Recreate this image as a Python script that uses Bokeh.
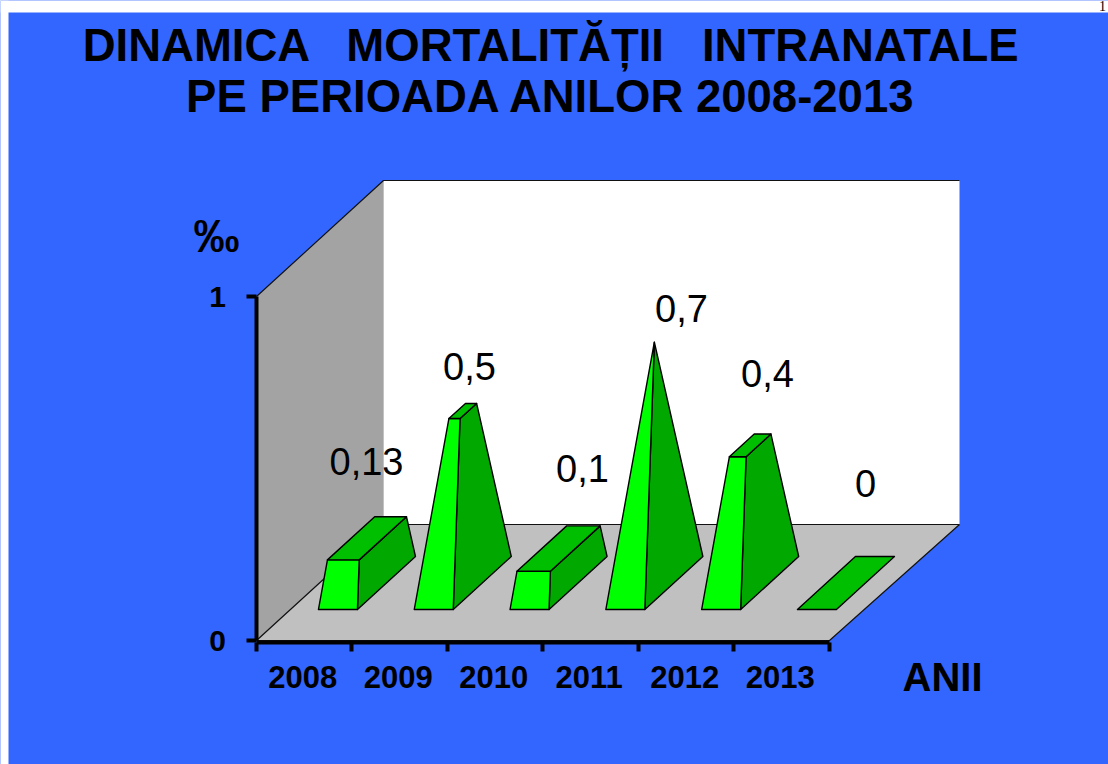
from bokeh.plotting import figure
from bokeh.embed import file_html
from bokeh.resources import INLINE
from bokeh.models import FixedTicker, LinearAxis, Range1d
from bokeh.core.properties import value

# ---- data ----
years = ["2008", "2009", "2010", "2011", "2012", "2013"]
rates = [0.13, 0.5, 0.1, 0.7, 0.4, 0.0]
rate_labels = ["0,13", "0,5", "0,1", "0,7", "0,4", "0"]
title_lines = ["DINAMICA \u00a0 MORTALITĂȚII \u00a0 INTRANATALE", "PE PERIOADA ANILOR 2008-2013"]

# ---- page layout ----
W, H = 1108, 764
PX_X, PX_Y = 95.5, 344.0          # pixels per category / per unit of value
X0, Y0 = 256.0, 640.0             # page pixel of the chart origin
DEPTH_X, DEPTH_Y = 127 / PX_X, 116 / PX_Y   # oblique offset of the back wall
BACK_EXTRA = 3 / PX_X                       # back wall is a little wider than the front axis
BAR_L, BAR_W = 28.0 / PX_X, 39.0 / PX_X     # bar start and width along the axis
BAR_STEP = 95.8 / PX_X                      # bar spacing
BAR_ZF, BAR_ZB = 31.0 / 116, 84.0 / 116     # bar depth extent (fraction of depth)
LABEL_SHIFT = -1.5 / PX_X                   # year labels sit slightly left of the slot centre
APEX = max(rates)

def ux(px):
    return (px - X0) / PX_X

def uy(py):
    return (Y0 - py) / PX_Y

def proj(x, z, v):
    return x + z * DEPTH_X, v + z * DEPTH_Y

p = figure(width=W, height=H, output_backend="svg", toolbar_location=None,
           x_range=Range1d(ux(0), ux(W)), y_range=Range1d(uy(H), uy(0)),
           min_border=0, x_axis_location=None, y_axis_location=None)
p.grid.visible = False
p.outline_line_color = None
p.background_fill_color = "#3366FF"
p.border_fill_color = "#3366FF"

# white page margin around the slide
p.quad(left=[ux(0), ux(0)], right=[ux(W), ux(8)], top=[uy(0), uy(0)], bottom=[uy(12), uy(H)],
       fill_color="white", line_color=None)

# walls and floor
n = len(years)
thin = dict(line_color="#111111", line_width=1.2)
p.patch(*zip(*[proj(0, 0, 0), proj(0, 1, 0), proj(0, 1, 1), proj(0, 0, 1)]), fill_color="#A3A3A3", line_color=None)
p.patch(*zip(*[proj(0, 1, 0), proj(n + BACK_EXTRA, 1, 0), proj(n + BACK_EXTRA, 1, 1), proj(0, 1, 1)]),
        fill_color="white", line_color=None)
p.line(*zip(proj(0, 0, 1), proj(0, 1, 1), proj(n + BACK_EXTRA, 1, 1)), **thin)
p.patch(*zip(*[proj(0, 0, 0), proj(n, 0, 0), proj(n + BACK_EXTRA, 1, 0), proj(0, 1, 0)]), fill_color="#C0C0C0", **thin)

# pyramids cut at their value
edge = dict(line_color="black", line_width=1.4, line_join="round")
for i, v in enumerate(rates):
    x1, x2 = i * BAR_STEP + BAR_L, i * BAR_STEP + BAR_L + BAR_W
    cx, cz = (x1 + x2) / 2, (BAR_ZF + BAR_ZB) / 2
    t = v / APEX

    def corner(x, z, level):
        return proj(x + (cx - x) * level, z + (cz - z) * level, APEX * level)

    fl0, fr0 = corner(x1, BAR_ZF, 0), corner(x2, BAR_ZF, 0)
    br0, bl0 = corner(x2, BAR_ZB, 0), corner(x1, BAR_ZB, 0)
    fl1, fr1 = corner(x1, BAR_ZF, t), corner(x2, BAR_ZF, t)
    br1, bl1 = corner(x2, BAR_ZB, t), corner(x1, BAR_ZB, t)
    if v > 0:
        p.patch(*zip(fr0, br0, br1, fr1), fill_color="#00A800", **edge)
        p.patch(*zip(fl0, fr0, fr1, fl1), fill_color="#00FF00", **edge)
    if v < APEX:
        p.patch(*zip(fl1, fr1, br1, bl1), fill_color="#00BE00", **edge)

# axes
font = "Liberation Sans"
label_ticks = [i + 0.5 + LABEL_SHIFT for i in range(n)]
xaxis = LinearAxis(ticker=FixedTicker(ticks=label_ticks, minor_ticks=[k - 0.5 / PX_X for k in range(n + 1)]),
                   fixed_location=-1.5 / PX_Y, bounds=(-0.5 / PX_X, n),
                   axis_line_width=4, axis_line_color="black",
                   major_tick_line_color=None, major_tick_out=0, major_tick_in=0,
                   minor_tick_line_width=4, minor_tick_line_color="black", minor_tick_out=9, minor_tick_in=0,
                   major_label_overrides=dict(zip(label_ticks, years)),
                   major_label_standoff=15, major_label_text_font=font, major_label_text_font_style="bold",
                   major_label_text_font_size="31px", major_label_text_color="black")
p.add_layout(xaxis, "below")
yaxis = LinearAxis(ticker=FixedTicker(ticks=[0, 1]), fixed_location=-0.5 / PX_X, bounds=(0, 1),
                   axis_line_width=4, axis_line_color="black", major_tick_line_width=4, major_tick_line_color="black",
                   major_tick_out=10, major_tick_in=0, minor_tick_line_color=None,
                   major_label_overrides={0: "0", 1: "1"}, major_label_standoff=20,
                   major_label_text_font=font, major_label_text_font_style="bold",
                   major_label_text_font_size="30px", major_label_text_color="black")
p.add_layout(yaxis, "left")

# texts (y is the wanted baseline in page pixels; the renderer places it 0.37 em lower)
def label(x, y, t, size, fam=font, style="bold", align="center"):
    p.text([ux(x)], [uy(y - 0.37 * size)], text=[t], text_font=value(fam), text_font_style=style,
           text_font_size=f"{size}px", text_align=align, text_baseline="alphabetic", text_color="black")

label(551, 62, title_lines[0], 45.5)
label(551, 113, title_lines[1], 45.5)
label(216, 253, "‰", 46)
label(942, 691, "ANII", 40)
label(1102, 11, "1", 14, fam="Liberation Serif", style="normal")

label_px = [(366, 475), (469, 380), (582, 482), (681, 322), (767, 387), (865, 497)]
for (x, y), t in zip(label_px, rate_labels):
    label(x, y, t, 38, style="normal")

open("out.html", "w").write(file_html(p, INLINE))
